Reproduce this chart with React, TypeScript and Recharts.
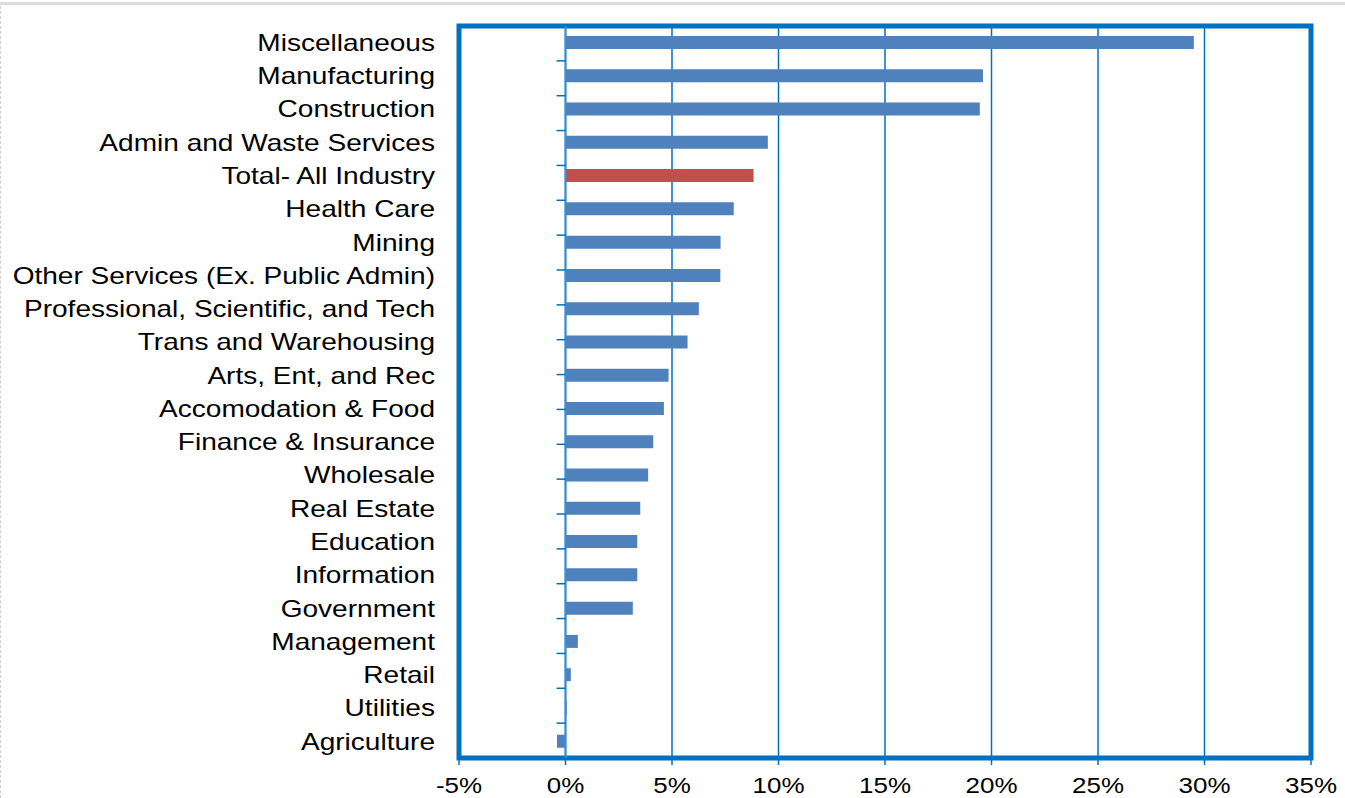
import React from 'react'
import { BarChart, Bar, XAxis, YAxis, CartesianGrid, ReferenceLine, ReferenceArea, Cell } from 'recharts'

const industries = [
  'Miscellaneous',
  'Manufacturing',
  'Construction',
  'Admin and Waste Services',
  'Total- All Industry',
  'Health Care',
  'Mining',
  'Other Services (Ex. Public Admin)',
  'Professional, Scientific, and Tech',
  'Trans and Warehousing',
  'Arts, Ent, and Rec',
  'Accomodation & Food',
  'Finance & Insurance',
  'Wholesale',
  'Real Estate',
  'Education',
  'Information',
  'Government',
  'Management',
  'Retail',
  'Utilities',
  'Agriculture',
]

const growth = [
  29.5, 19.6, 19.45, 9.5, 8.83, 7.9, 7.28, 7.27, 6.26, 5.73, 4.84,
  4.62, 4.12, 3.88, 3.51, 3.37, 3.37, 3.16, 0.58, 0.25, 0.06, -0.4,
]

const xTicks = [-5, 0, 5, 10, 15, 20, 25, 30, 35]

const BLUE = '#0070C0'
const BAR = '#4F81BD'
const RED = '#C0504D'
const FONT = '"Liberation Sans", Arial, sans-serif'

const data = industries.map((name, i) => ({ name, value: growth[i] }))
const boundaries = industries.slice(1).map((_, i) => i + 1)

const YTick = (props: any) => {
  const { x, y, payload } = props
  return (
    <text
      transform={`translate(${x},${y}) scale(1.22,1)`}
      textAnchor="end"
      dy="0.36em"
      fontSize={23}
      fontFamily={FONT}
      fill="#000"
    >
      {payload.value}
    </text>
  )
}

const XTick = (props: any) => {
  const { x, y, payload } = props
  return (
    <text
      transform={`translate(${x},${y}) scale(1.18,1)`}
      textAnchor="middle"
      dy="0.71em"
      fontSize={22}
      fontFamily={FONT}
      fill="#000"
    >
      {`${payload.value}%`}
    </text>
  )
}

export default function App() {
  return (
    <div style={{ position: 'absolute', left: 0, top: 0, width: 1345, height: 798, background: '#fff' }}>
      {/* page chrome */}
      <div style={{ position: 'absolute', left: 0, top: 2, width: 1345, height: 3, background: '#DDDDDD' }} />
      <div style={{ position: 'absolute', left: 0, top: 6, width: 0, height: 792, borderLeft: '1px dashed #D0D0D0' }} />

      <BarChart
        width={1345}
        height={798}
        data={data}
        layout="vertical"
        margin={{ top: 26, right: 34, left: 0, bottom: 0 }}
        barSize={13}
      >
        <CartesianGrid horizontal={false} stroke={BLUE} strokeWidth={1.5} />
        <XAxis
          type="number"
          domain={[-5, 35]}
          ticks={xTicks}
          allowDataOverflow
          height={40}
          axisLine={false}
          tickLine={{ stroke: BLUE, strokeWidth: 1.5 }}
          tickSize={7}
          tickMargin={12}
          tick={<XTick />}
        />
        <YAxis
          type="category"
          dataKey="name"
          width={459}
          axisLine={false}
          tickLine={false}
          tickSize={8}
          tickMargin={16}
          interval={0}
          tick={<YTick />}
        />
        <YAxis yAxisId="grid" type="number" domain={[0, 22]} allowDataOverflow hide />
        <Bar dataKey="value" fill={BAR} isAnimationActive={false}>
          {data.map((d, i) => (
            <Cell key={i} fill={d.name === 'Total- All Industry' ? RED : BAR} />
          ))}
        </Bar>
        <ReferenceLine x={0} stroke="#3B8ED0" strokeWidth={2} />
        {boundaries.map((k) => (
          <ReferenceLine
            key={k}
            yAxisId="grid"
            segment={[{ x: -0.42, y: k }, { x: 0, y: k }]}
            stroke={BLUE}
            strokeWidth={1.5}
          />
        ))}
        <ReferenceArea x1={-5} x2={35} fill="none" fillOpacity={0} stroke={BLUE} strokeWidth={5} />
      </BarChart>
    </div>
  )
}
